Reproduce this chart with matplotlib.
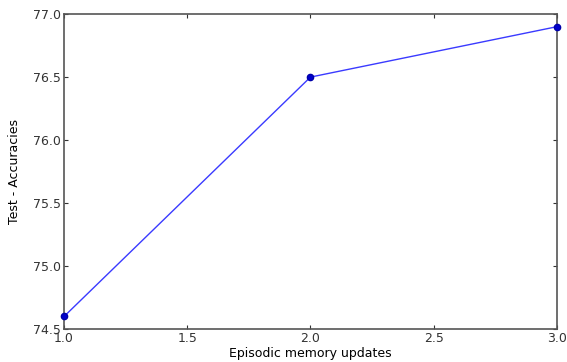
import matplotlib
matplotlib.use("Agg")
import matplotlib.pyplot as plt

updates = [1.0, 2.0, 3.0]
accuracies = [74.6, 76.5, 76.9]
xticks = [1.0, 1.5, 2.0, 2.5, 3.0]
yticks = [74.5, 75.0, 75.5, 76.0, 76.5, 77.0]

fig = plt.figure(figsize=(5.67, 3.62), dpi=100)
ax = fig.add_axes([0.113, 0.091, 0.869, 0.870])
ax.plot(updates, accuracies, color="#3a3aff", marker="o", markersize=4.5,
        markerfacecolor="#0000cc", markeredgecolor="#0000aa",
        linewidth=1, clip_on=False, zorder=3)
ax.set_xlim(1.0, 3.0)
ax.set_ylim(74.5, 77.0)
ax.set_xticks(xticks)
ax.set_yticks(yticks)
ax.set_xticklabels([f"{v:.1f}" for v in xticks])
ax.set_yticklabels([f"{v:.1f}" for v in yticks])
ax.tick_params(direction="in", top=True, right=True, length=3, width=0.8,
               labelsize=9, colors="#333333", pad=2)
for s in ax.spines.values():
    s.set_color("#555555")
    s.set_linewidth(1.2)
ax.set_xlabel("Episodic memory updates", fontsize=9, labelpad=1.5)
ax.set_ylabel("Test - Accuracies", fontsize=9, labelpad=9)
fig.savefig("out.png", dpi=100)
